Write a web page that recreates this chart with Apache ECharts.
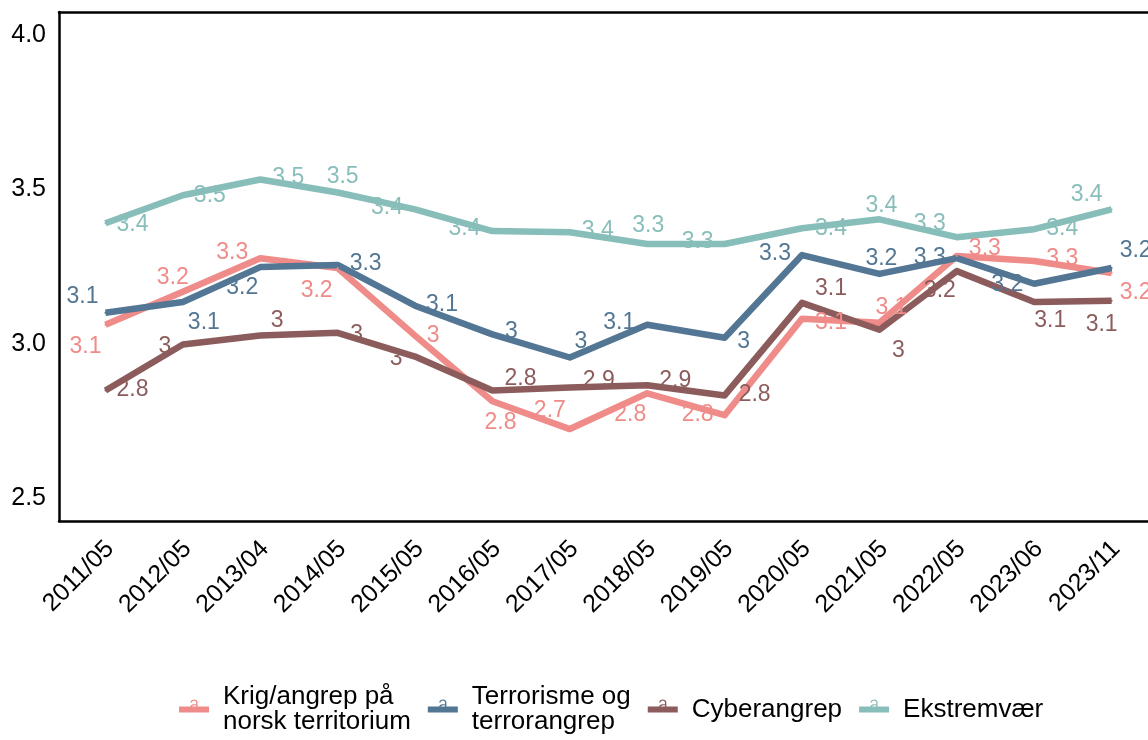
<!DOCTYPE html>
<html>
<head>
<meta charset="utf-8">
<script src="https://cdn.jsdelivr.net/npm/echarts@6/dist/echarts.min.js"></script>
<style>html,body{margin:0;padding:0;background:#fff}#c{width:1148px;height:740px}</style>
</head>
<body>
<div id="c"></div>
<script>
// ---- data ----
const categories = ['2011/05','2012/05','2013/04','2014/05','2015/05','2016/05','2017/05','2018/05','2019/05','2020/05','2021/05','2022/05','2023/06','2023/11'];
const seriesNames = ['Krig/angrep på\nnorsk territorium','Terrorisme og\nterrorangrep','Cyberangrep','Ekstremvær'];
const krig    = [3.061,3.168,3.277,3.245,3.026,2.813,2.723,2.839,2.768,3.081,3.068,3.284,3.268,3.229];
const terror  = [3.100,3.135,3.248,3.255,3.123,3.030,2.955,3.061,3.019,3.287,3.226,3.277,3.194,3.245];
const cyber   = [2.848,2.997,3.026,3.035,2.958,2.848,2.858,2.865,2.832,3.132,3.045,3.235,3.135,3.139];
const ekstrem = [3.390,3.481,3.532,3.490,3.435,3.365,3.361,3.323,3.323,3.374,3.403,3.345,3.371,3.435];
const yTicks = [2.5,3.0,3.5,4.0];

// ---- styling (label placement, colours) ----
const colors = ['#EF8B88','#527693','#8C5C5C','#88BEBA'];
const krigOff    = [[-20,22],[-10,-14],[-28,-6],[-21,23],[18,0],[8,21],[-20,-18],[-17,21],[-27,-1],[29,4],[12,-15],[28,-7],[28,-2],[24,20]];
const terrorOff  = [[-23,-16],[21,21],[-18,21],[28,-1],[27,-1],[19,-3],[11,-16],[-28,-2],[19,4],[-27,-1],[2,-15],[-27,-1],[-27,1],[24,-17]];
const cyberOff   = [[27,-1],[-18,2],[17,-15],[19,2],[-19,2],[28,-12],[29,-7],[28,-5],[30,-1],[29,-14],[19,21],[-17,20],[16,19],[-10,24]];
const ekstremOff = [[27,1],[27,0],[28,-2],[5,-16],[-28,-2],[-28,-2],[28,-2],[1,-18],[-27,-2],[29,0],[2,-14],[-27,-14],[28,-1],[-25,-15]];

const FONT = '"Liberation Sans", Arial, sans-serif';
const allValues = [krig, terror, cyber, ekstrem];
const allOffsets = [krigOff, terrorOff, cyberOff, ekstremOff];
const LABEL_SHIFT = 0.06; // tick-label anchor shift (category units)

// legend key: line with a small "a" glyph above it (ggplot style)
const keyIcon = 'path://M0 7H30V13H0Z' +
  'M11.4 3.0C11.7 0.8 13.2 0 15.0 0C17.1 0 18.6 0.9 18.6 3.0L18.6 9.2L17.2 9.2L17.2 3.2C17.2 1.8 16.3 1.3 15.0 1.3C13.7 1.3 12.9 1.8 12.7 3.1Z' +
  'M17.4 4.5L17.4 5.8C16.5 5.9 15.3 5.9 14.6 6.0C13.5 6.2 12.9 6.5 12.9 7.3C12.9 8.0 13.5 8.4 14.4 8.4L14.4 9.5C12.6 9.5 11.4 8.6 11.4 7.3C11.4 5.8 12.7 5.0 14.4 4.8C15.5 4.7 16.6 4.6 17.4 4.5Z' +
  'M15 19.98h0.02v0.02h-0.02Z';

function fmt(v){ return String(Math.round(v*10)/10); }

const series = allValues.map((vals, s) => ({
  name: seriesNames[s],
  type: 'line',
  xAxisIndex: 0,
  data: vals.map((v, i) => ({ value: [i, v], label: { offset: allOffsets[s][i] } })),
  symbol: 'circle',
  symbolSize: 2,
  showSymbol: true,
  itemStyle: { color: colors[s] },
  lineStyle: { color: colors[s], width: 6.5, join: 'round' },
  label: {
    show: true, position: 'inside', fontSize: 23, fontFamily: FONT, color: colors[s],
    formatter: p => fmt(p.value[1])
  },
  emphasis: { disabled: true },
  clip: false
}));

const X_MIN = -0.6, X_MAX = 13.47;
const borderLine = { show: true, onZero: false, lineStyle: { color: '#000', width: 2.5 } };

const chart = echarts.init(document.getElementById('c'), null, { renderer: 'canvas' });
chart.setOption({
  animation: false,
  backgroundColor: '#fff',
  grid: { left: 59, top: 12, right: 0, bottom: 219 },
  xAxis: [{
    type: 'value', min: X_MIN, max: X_MAX, position: 'bottom',
    axisLine: borderLine, axisTick: { show: false }, splitLine: { show: false },
    axisLabel: {
      customValues: categories.map((c, i) => i + LABEL_SHIFT),
      formatter: v => categories[Math.round(v - LABEL_SHIFT)],
      rotate: 45, fontSize: 25, fontFamily: FONT, color: '#000', margin: 24
    }
  }, {
    type: 'value', min: X_MIN, max: X_MAX, position: 'top',
    axisLine: borderLine, axisTick: { show: false }, splitLine: { show: false },
    axisLabel: { show: false }
  }],
  yAxis: {
    type: 'value', min: 2.425, max: 4.075, position: 'left',
    axisLine: borderLine, axisTick: { show: false }, splitLine: { show: false },
    axisLabel: {
      customValues: yTicks,
      formatter: v => v.toFixed(1), fontSize: 25, fontFamily: FONT, color: '#000', margin: 13
    }
  },
  legend: {
    left: 174, top: 679, orient: 'horizontal',
    itemWidth: 30, itemHeight: 20, itemGap: 17, icon: keyIcon,
    textStyle: { fontSize: 26, fontFamily: FONT, color: '#000', lineHeight: 25, padding: [0,0,0,9] },
    data: seriesNames
  },
  series: series
});
</script>
</body>
</html>
